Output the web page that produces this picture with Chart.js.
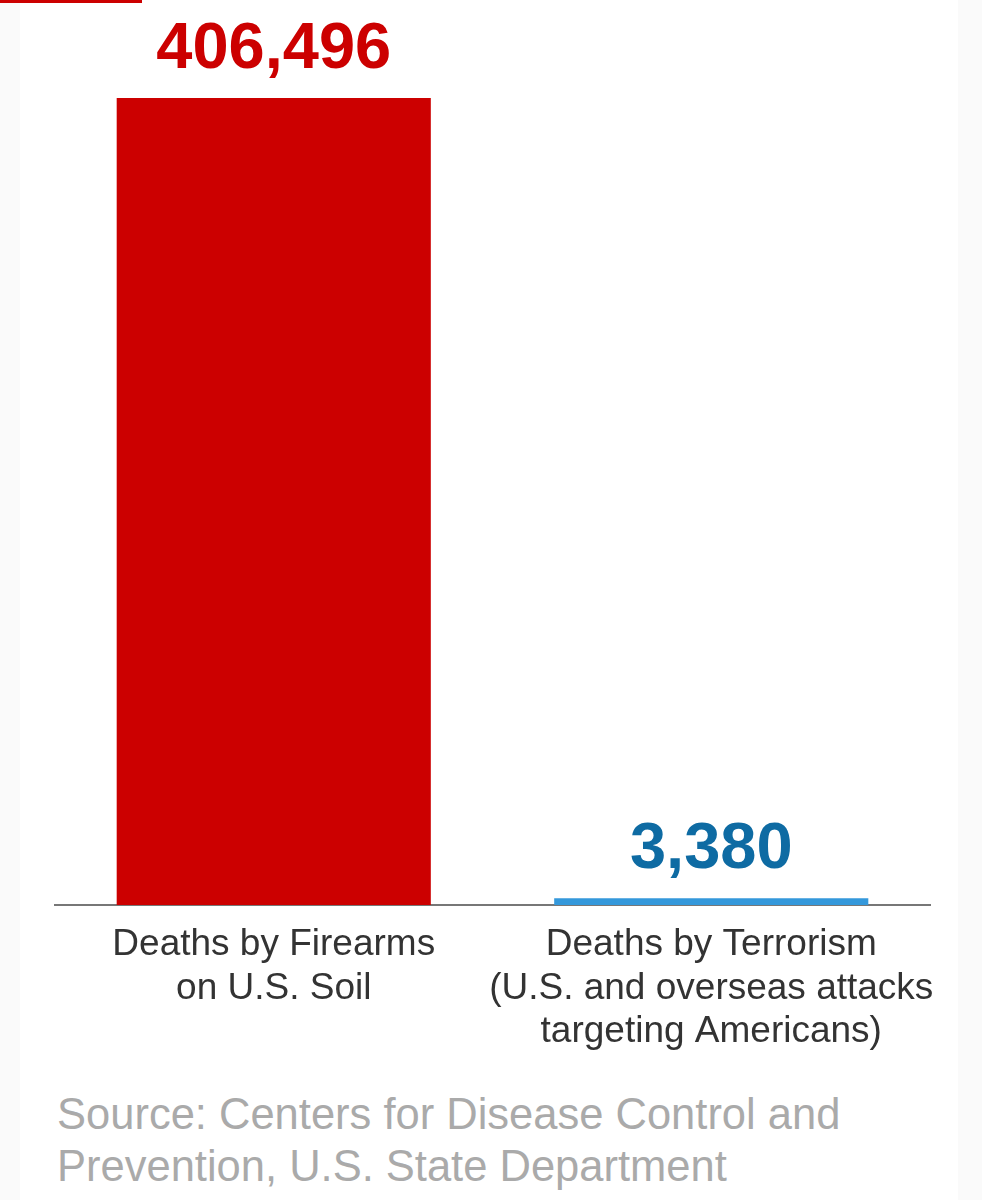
<!DOCTYPE html>
<html>
<head>
<meta charset="utf-8">
<script src="https://cdn.jsdelivr.net/npm/chart.js@4"></script>
<style>
  html, body { margin: 0; padding: 0; background: #fafafa; }
  #page { position: relative; width: 982px; height: 1200px; overflow: hidden; }
  #panel { position: absolute; left: 20px; top: 0; width: 938px; height: 1200px; background: #fff; }
  #topbar { position: absolute; left: 0; top: 0; width: 142px; height: 3px; background: #cc0000; }
  #chartWrap { position: absolute; left: 0; top: 0; width: 982px; height: 1060px; }
  #source { position: absolute; left: 57px; top: 1088px; font-family: "Liberation Sans", Arial, sans-serif;
            font-size: 43.5px; line-height: 52px; color: #aaaaaa; }
</style>
</head>
<body>
<div id="page">
  <div id="panel"></div>
  <div id="topbar"></div>
  <div id="chartWrap"><canvas id="deathsChart" width="982" height="1060"></canvas></div>
  <div id="source">Source: Centers for Disease Control and<br>Prevention, U.S. State Department</div>
</div>
<script>
var categories = [
  ['Deaths by Firearms', 'on U.S. Soil'],
  ['Deaths by Terrorism', '(U.S. and overseas attacks', 'targeting Americans)']
];
var deaths = [406496, 3380];
var barColors = ['#cc0000', '#3498db'];
var labelColors = ['#cc0000', '#0e6ba3'];

// Big numbers above each bar
var valueLabels = {
  id: 'valueLabels',
  afterDatasetsDraw: function(chart) {
    var ctx = chart.ctx;
    var meta = chart.getDatasetMeta(0);
    ctx.save();
    ctx.font = 'bold 65px "Liberation Sans", Arial, sans-serif';
    ctx.textAlign = 'center';
    ctx.textBaseline = 'alphabetic';
    meta.data.forEach(function(bar, i) {
      ctx.fillStyle = labelColors[i];
      ctx.fillText(deaths[i].toLocaleString('en-US'), bar.x, bar.y - 30);
    });
    ctx.restore();
  }
};

new Chart(document.getElementById('deathsChart').getContext('2d'), {
  type: 'bar',
  data: {
    labels: categories,
    datasets: [{
      data: deaths,
      backgroundColor: barColors,
      borderWidth: 0,
      barPercentage: 0.718,
      categoryPercentage: 1
    }]
  },
  options: {
    responsive: false,
    animation: false,
    devicePixelRatio: 1,
    layout: { padding: { left: 55, right: 52, top: 98, bottom: 0 } },
    plugins: { legend: { display: false }, tooltip: { enabled: false } },
    scales: {
      y: { display: false, min: 0, max: deaths[0] },
      x: {
        grid: { display: false },
        border: { display: true, color: '#777777', width: 2 },
        ticks: {
          color: '#333333',
          padding: 10,
          maxRotation: 0,
          minRotation: 0,
          autoSkip: false,
          font: { family: '"Liberation Sans", Arial, sans-serif', size: 37, lineHeight: 1.18 }
        },
        afterFit: function(scale) { scale.height = 155; }
      }
    }
  },
  plugins: [valueLabels]
});
</script>
</body>
</html>
